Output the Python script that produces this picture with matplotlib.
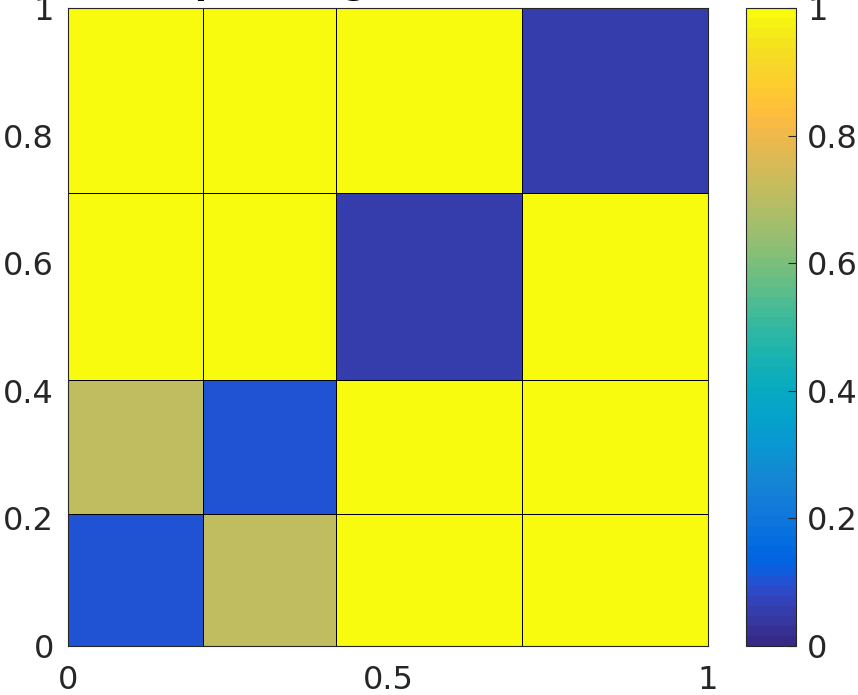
import numpy as np
import matplotlib
matplotlib.use("Agg")
import matplotlib.pyplot as plt
from matplotlib.colors import ListedColormap
from matplotlib.ticker import FuncFormatter

# MATLAB parula (64 entries)
parula_data = [
    [0.2081, 0.1663, 0.5292], [0.2116, 0.1898, 0.5777], [0.2123, 0.2138, 0.6270], [0.2081, 0.2386, 0.6771],
    [0.1959, 0.2645, 0.7279], [0.1707, 0.2919, 0.7792], [0.1253, 0.3242, 0.8303], [0.0591, 0.3598, 0.8683],
    [0.0117, 0.3875, 0.8820], [0.0060, 0.4086, 0.8828], [0.0165, 0.4266, 0.8786], [0.0329, 0.4430, 0.8720],
    [0.0498, 0.4586, 0.8641], [0.0629, 0.4737, 0.8554], [0.0723, 0.4887, 0.8467], [0.0779, 0.5040, 0.8384],
    [0.0793, 0.5200, 0.8312], [0.0749, 0.5375, 0.8263], [0.0641, 0.5570, 0.8240], [0.0488, 0.5772, 0.8228],
    [0.0343, 0.5966, 0.8199], [0.0265, 0.6137, 0.8135], [0.0239, 0.6287, 0.8038], [0.0231, 0.6418, 0.7913],
    [0.0228, 0.6535, 0.7768], [0.0267, 0.6642, 0.7607], [0.0384, 0.6743, 0.7436], [0.0590, 0.6838, 0.7254],
    [0.0843, 0.6928, 0.7062], [0.1133, 0.7015, 0.6859], [0.1453, 0.7098, 0.6646], [0.1801, 0.7177, 0.6424],
    [0.2178, 0.7250, 0.6193], [0.2586, 0.7317, 0.5954], [0.3022, 0.7376, 0.5712], [0.3482, 0.7424, 0.5473],
    [0.3953, 0.7459, 0.5244], [0.4420, 0.7481, 0.5033], [0.4871, 0.7491, 0.4840], [0.5300, 0.7491, 0.4661],
    [0.5709, 0.7485, 0.4494], [0.6099, 0.7473, 0.4337], [0.6473, 0.7456, 0.4188], [0.6834, 0.7435, 0.4044],
    [0.7184, 0.7411, 0.3905], [0.7525, 0.7384, 0.3768], [0.7858, 0.7356, 0.3633], [0.8185, 0.7327, 0.3498],
    [0.8507, 0.7299, 0.3360], [0.8824, 0.7274, 0.3217], [0.9139, 0.7258, 0.3063], [0.9450, 0.7261, 0.2886],
    [0.9739, 0.7314, 0.2666], [0.9938, 0.7455, 0.2403], [0.9990, 0.7653, 0.2164], [0.9955, 0.7861, 0.1967],
    [0.9880, 0.8066, 0.1794], [0.9789, 0.8271, 0.1633], [0.9697, 0.8481, 0.1475], [0.9626, 0.8705, 0.1309],
    [0.9589, 0.8949, 0.1132], [0.9598, 0.9218, 0.0948], [0.9661, 0.9514, 0.0755], [0.9763, 0.9831, 0.0538],
]
parula = ListedColormap(parula_data, name="parula")

# grid edges and cell values (rows from bottom to top)
x_edges = [0, 0.211, 0.419, 0.709, 1]
y_edges = [0, 0.207, 0.417, 0.710, 1]
values = [
    [0.10, 0.71, 1.00, 1.00],
    [0.71, 0.10, 1.00, 1.00],
    [1.00, 1.00, 0.055, 1.00],
    [1.00, 1.00, 1.00, 0.055],
]
title = 'Spatial agreement matrix'

ink = (0.15, 0.15, 0.15)
plt.rcParams['font.family'] = ['DejaVu Sans']
plt.rcParams['font.size'] = 23

W, H = 858, 695
fig = plt.figure(figsize=(W / 100, H / 100), dpi=100)
ax = fig.add_axes([68 / W, 1 - 646 / H, 640 / W, 638 / H])
cax = fig.add_axes([746 / W, 1 - 646 / H, 50 / W, 638 / H])

mesh = ax.pcolormesh(x_edges, y_edges, np.array(values), cmap=parula, vmin=0, vmax=1,
                     edgecolors='black', linewidth=0.6)
ax.set_xlim(0, 1)
ax.set_ylim(0, 1)
ax.set_xticks([0, 0.5, 1])
ax.set_yticks([0, 0.2, 0.4, 0.6, 0.8, 1])

fmt = FuncFormatter(lambda v, p: ('%g' % round(v, 2)))
ax.xaxis.set_major_formatter(fmt)
ax.yaxis.set_major_formatter(fmt)
ax.tick_params(direction='in', top=True, right=True, colors=ink, length=0)
ax.tick_params(axis='y', pad=10)
ax.tick_params(axis='x', pad=14)
for s in ax.spines.values():
    s.set_color(ink)
    s.set_linewidth(0.8)

cb = fig.colorbar(mesh, cax=cax)
cb.set_ticks([0, 0.2, 0.4, 0.6, 0.8, 1])
cb.ax.yaxis.set_major_formatter(fmt)
cb.ax.tick_params(direction='in', colors=ink, length=6, width=0.8, pad=8)
cb.outline.set_edgecolor(ink)
cb.outline.set_linewidth(0.8)

# title mostly clipped above the figure; place it so the 'p' falls near x=207px
renderer = fig.canvas.get_renderer()
probe = fig.text(0, 0, title[:1], fontsize=25, fontweight='bold')
w_s = probe.get_window_extent(renderer).width
probe.set_text(title[:2])
w_sp = probe.get_window_extent(renderer).width
probe.remove()
x_left = 207 - (w_s + w_sp) / 2
fig.text(x_left / W, 1 - 1 / H, title, ha='left', va='bottom',
         fontsize=25, fontweight='bold', color='black')

fig.savefig('out.png', dpi=100)
